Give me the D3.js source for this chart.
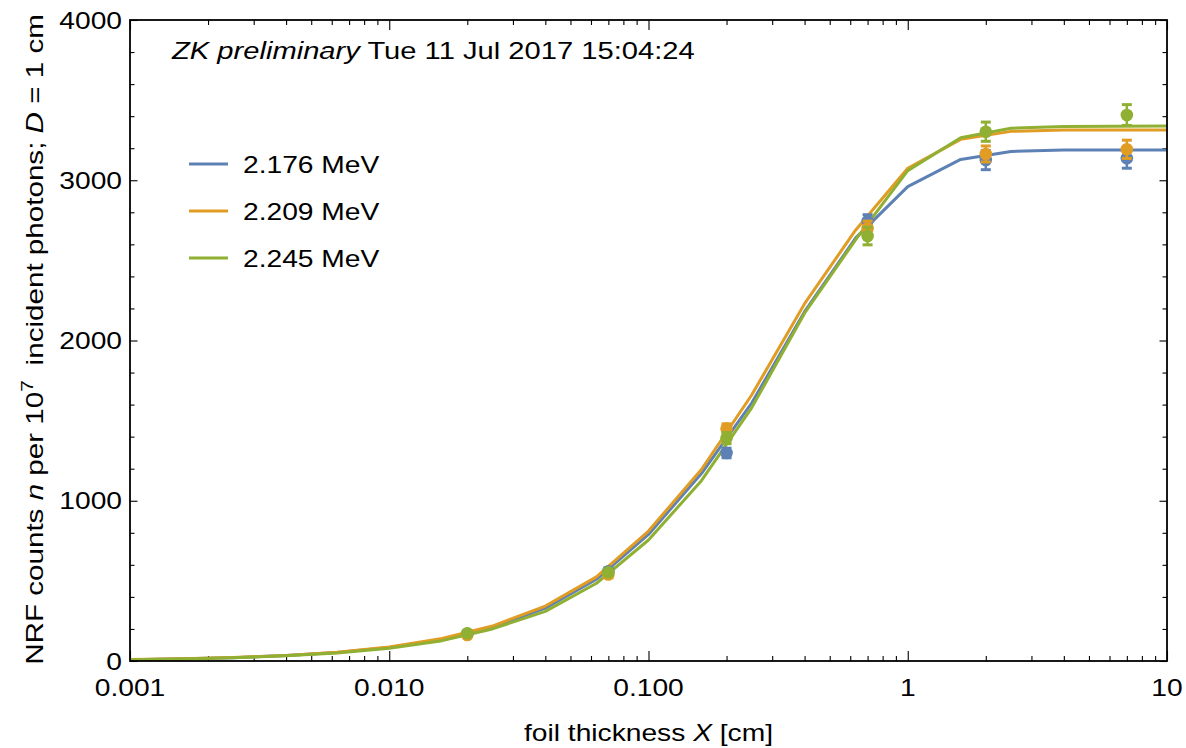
<!DOCTYPE html>
<html>
<head>
<meta charset="utf-8">
<script src="https://cdn.jsdelivr.net/npm/d3@7"></script>
<style>
  html, body { margin: 0; padding: 0; background: #fff; }
  svg text { font-family: "Liberation Sans", Arial, Helvetica, sans-serif; fill: #000; }
</style>
</head>
<body>
<svg id="chart" width="1186" height="748"></svg>
<script>
// Foil thickness grid (cm) on which the model curves are evaluated
const thicknessGrid = [0.001, 0.0016, 0.0025, 0.004, 0.0063, 0.01, 0.016, 0.025, 0.04, 0.063,
                       0.1, 0.16, 0.25, 0.4, 0.63, 1, 1.6, 2.5, 4, 6.3, 10];

// Model NRF counts per 1e7 incident photons for each line energy
const curve2176 = [8.5, 13.6, 21, 34, 53, 85, 135, 210, 330, 510,
                   790, 1170, 1610, 2180, 2640, 2960, 3130, 3180, 3188, 3189, 3189];
const curve2209 = [8.7, 14, 22, 35, 55, 88, 140, 218, 343, 525,
                   811, 1195, 1660, 2230, 2690, 3075, 3255, 3305, 3313, 3314, 3314];
const curve2245 = [8, 13, 20, 32, 50, 80, 127, 200, 310, 485,
                   755, 1125, 1580, 2170, 2630, 3060, 3265, 3325, 3335, 3337, 3338];

// Simulated points with statistical uncertainties
const pointThickness = [0.02, 0.07, 0.2, 0.7, 2, 7];
const points2176 = [170, 560, 1298, 2745, 3126, 3137];
const errors2176 = [10, 20, 30, 40, 60, 62];
const points2209 = [162, 540, 1450, 2700, 3164, 3193];
const errors2209 = [10, 20, 30, 45, 50, 57];
const points2245 = [173, 553, 1391, 2652, 3303, 3407];
const errors2245 = [10, 20, 35, 55, 60, 65];

const seriesNames = ["2.176 MeV", "2.209 MeV", "2.245 MeV"];
const seriesColors = ["#5E81B5", "#E19C24", "#8FB032"];

// Axis ticks
const xMajorTicks = [0.001, 0.01, 0.1, 1, 10];
const xTickLabels = ["0.001", "0.010", "0.100", "1", "10"];
const yMajorTicks = [0, 1000, 2000, 3000, 4000];
const yTickLabels = ["0", "1000", "2000", "3000", "4000"];

const series = [
  { name: seriesNames[0], color: seriesColors[0], curve: curve2176, pts: points2176, err: errors2176 },
  { name: seriesNames[1], color: seriesColors[1], curve: curve2209, pts: points2209, err: errors2209 },
  { name: seriesNames[2], color: seriesColors[2], curve: curve2245, pts: points2245, err: errors2245 }
];

const svg = d3.select("#chart");
const plotLeft = 130, plotRight = 1167, plotTop = 20, plotBottom = 661;
const FS = 23.5;      // font size
const SX = 1.2;       // horizontal glyph stretch of the label font

const x = d3.scaleLog().domain([0.001, 10]).range([plotLeft, plotRight]);
const y = d3.scaleLinear().domain([0, 4000]).range([plotBottom, plotTop]);

// minor ticks
const xMinorTicks = [];
[0.001, 0.01, 0.1, 1].forEach(d => { for (let k = 2; k <= 9; k++) xMinorTicks.push(d * k); });
const yMinorTicks = d3.range(0, 4001, 200).filter(v => v % 1000 !== 0);

function styleAxis(g) {
  g.select(".domain").remove();
  g.selectAll(".tick line").attr("stroke", "#000").attr("stroke-width", 1.1);
  g.selectAll(".tick text").remove();
}

// bottom & top ticks (pointing inward)
svg.append("g").attr("transform", `translate(0,${plotBottom})`)
  .call(d3.axisBottom(x).tickValues(xMajorTicks).tickSize(-10).tickFormat("")).call(styleAxis);
svg.append("g").attr("transform", `translate(0,${plotBottom})`)
  .call(d3.axisBottom(x).tickValues(xMinorTicks).tickSize(-5).tickFormat("")).call(styleAxis);
svg.append("g").attr("transform", `translate(0,${plotTop})`)
  .call(d3.axisTop(x).tickValues(xMajorTicks).tickSize(-10).tickFormat("")).call(styleAxis);
svg.append("g").attr("transform", `translate(0,${plotTop})`)
  .call(d3.axisTop(x).tickValues(xMinorTicks).tickSize(-5).tickFormat("")).call(styleAxis);

// left & right ticks
svg.append("g").attr("transform", `translate(${plotLeft},0)`)
  .call(d3.axisLeft(y).tickValues(yMajorTicks).tickSize(-7.5).tickFormat("")).call(styleAxis);
svg.append("g").attr("transform", `translate(${plotLeft},0)`)
  .call(d3.axisLeft(y).tickValues(yMinorTicks).tickSize(-4.5).tickFormat("")).call(styleAxis);
svg.append("g").attr("transform", `translate(${plotRight},0)`)
  .call(d3.axisRight(y).tickValues(yMajorTicks).tickSize(-7.5).tickFormat("")).call(styleAxis);
svg.append("g").attr("transform", `translate(${plotRight},0)`)
  .call(d3.axisRight(y).tickValues(yMinorTicks).tickSize(-4.5).tickFormat("")).call(styleAxis);

// tick labels
svg.append("g").selectAll("text").data(xMajorTicks).join("text")
  .attr("transform", d => `translate(${x(d)},${plotBottom + 35}) scale(${SX},1)`)
  .attr("text-anchor", "middle").attr("font-size", FS)
  .text((d, i) => xTickLabels[i]);
svg.append("g").selectAll("text").data(yMajorTicks).join("text")
  .attr("transform", d => `translate(${plotLeft - 8},${y(d) + 8.5}) scale(${SX},1)`)
  .attr("text-anchor", "end").attr("font-size", FS)
  .text((d, i) => yTickLabels[i]);

// clip for curves
svg.append("clipPath").attr("id", "plotClip")
  .append("rect").attr("x", plotLeft).attr("y", plotTop)
  .attr("width", plotRight - plotLeft).attr("height", plotBottom - plotTop);

const line = d3.line().x(d => x(d[0])).y(d => y(d[1]));
const curves = svg.append("g").attr("clip-path", "url(#plotClip)");
series.forEach(s => {
  curves.append("path")
    .datum(thicknessGrid.map((t, i) => [t, s.curve[i]]))
    .attr("fill", "none").attr("stroke", s.color).attr("stroke-width", 3)
    .attr("stroke-linejoin", "round")
    .attr("d", line);
});

// points with error bars
series.forEach(s => {
  const g = svg.append("g").attr("fill", s.color).attr("stroke", s.color);
  const data = pointThickness.map((t, i) => ({ t, v: s.pts[i], e: s.err[i] }));
  g.selectAll("line.bar").data(data).join("line").attr("class", "bar")
    .attr("x1", d => x(d.t)).attr("x2", d => x(d.t))
    .attr("y1", d => y(d.v - d.e)).attr("y2", d => y(d.v + d.e))
    .attr("stroke-width", 2.5);
  ["lo", "hi"].forEach(k => {
    g.selectAll("line.cap" + k).data(data).join("line").attr("class", "cap" + k)
      .attr("x1", d => x(d.t) - 5).attr("x2", d => x(d.t) + 5)
      .attr("y1", d => y(k === "lo" ? d.v - d.e : d.v + d.e))
      .attr("y2", d => y(k === "lo" ? d.v - d.e : d.v + d.e))
      .attr("stroke-width", 3);
  });
  g.selectAll("circle").data(data).join("circle")
    .attr("cx", d => x(d.t)).attr("cy", d => y(d.v)).attr("r", 6.3)
    .attr("stroke", "none");
});

// frame
svg.append("rect").attr("x", plotLeft).attr("y", plotTop)
  .attr("width", plotRight - plotLeft).attr("height", plotBottom - plotTop)
  .attr("fill", "none").attr("stroke", "#000").attr("stroke-width", 1.8);

// legend
const legend = svg.append("g");
series.forEach((s, i) => {
  const ly = 164 + i * 47;
  legend.append("line").attr("x1", 189).attr("x2", 228).attr("y1", ly).attr("y2", ly)
    .attr("stroke", s.color).attr("stroke-width", 3);
  legend.append("text").attr("transform", `translate(243,${ly + 8.5}) scale(${SX},1)`)
    .attr("font-size", FS).text(s.name);
});

// header stamp
const header = svg.append("text").attr("transform", `translate(172,59) scale(1.24,1)`).attr("font-size", FS);
header.append("tspan").attr("font-style", "italic").text("ZK preliminary");
header.append("tspan").text(" Tue 11 Jul 2017 15:04:24");

// x axis title
const xt = svg.append("text").attr("transform", `translate(${(plotLeft + plotRight) / 2},741) scale(${SX},1)`)
  .attr("text-anchor", "middle").attr("font-size", FS);
xt.append("tspan").text("foil thickness ");
xt.append("tspan").attr("font-style", "italic").text("X");
xt.append("tspan").text(" [cm]");

// y axis title
const yt = svg.append("text")
  .attr("transform", `translate(43,${(plotTop + plotBottom) / 2 - 1}) rotate(-90) scale(1.26,1)`)
  .attr("text-anchor", "middle").attr("font-size", FS);
yt.append("tspan").text("NRF counts ");
yt.append("tspan").attr("font-style", "italic").text("n");
yt.append("tspan").text(" per 10");
yt.append("tspan").attr("font-size", FS * 0.7).attr("dy", -10).text("7");
yt.append("tspan").attr("dy", 10).text("\u2002incident photons; ");
yt.append("tspan").attr("font-style", "italic").text("D");
yt.append("tspan").text(" = 1 cm");
</script>
</body>
</html>
